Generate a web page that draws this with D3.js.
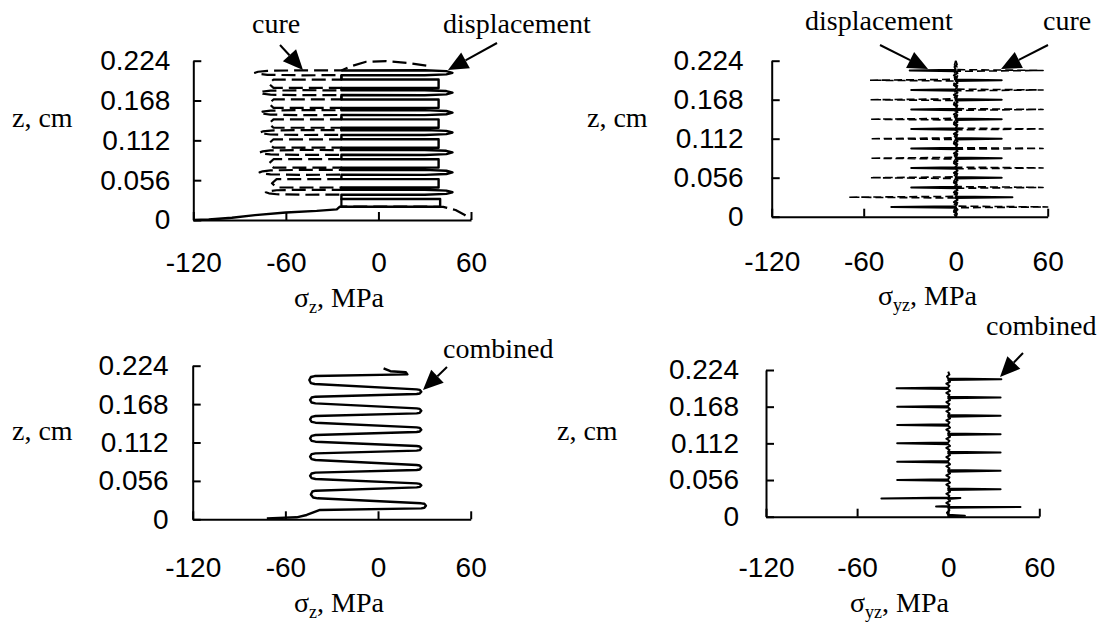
<!DOCTYPE html>
<html lang="en">
<head>
<meta charset="UTF-8">
<title>Stress through thickness</title>
<script src="https://cdnjs.cloudflare.com/ajax/libs/d3/7.8.5/d3.min.js"></script>
<style>
  body { margin: 0; background: #fff; }
  svg { display: block; }
  .tick text { font-family: "Liberation Sans", Arial, sans-serif; font-size: 28px; fill: #000; }
  .domain, .tick line { stroke: #000; stroke-width: 2; }
  .serif { font-family: "Liberation Serif", "Times New Roman", serif; font-size: 28px; fill: #000; }
  .curve { fill: none; stroke: #000; stroke-linejoin: round; }
</style>
</head>
<body>
<svg id="chart" width="1097" height="627"></svg>
<script>
// axis ticks
const sigmaTicks = [-120, -60, 0, 60];
const sigmaTickLabels = ["-120", "-60", "0", "60"];
const zTicks = [0, 0.056, 0.112, 0.168, 0.224];
const zTickLabels = ["0", "0.056", "0.112", "0.168", "0.224"];

// [sigma (MPa), z (cm)]
// sigma_z, displacement (solid)
const dispZ = [
  [-24, 0.2103], [30, 0.2105], [44, 0.2093], [48, 0.2070], [44, 0.2047], [30, 0.2035], [-24, 0.2037],
  [-24, 0.1975], [39, 0.1975], [39, 0.1857], [-24, 0.1857],
  [-24, 0.1823], [30, 0.1825], [44, 0.1813], [48, 0.1790], [44, 0.1767], [30, 0.1755], [-24, 0.1757],
  [-24, 0.1695], [39, 0.1695], [39, 0.1577], [-24, 0.1577],
  [-24, 0.1543], [30, 0.1545], [44, 0.1533], [48, 0.1510], [44, 0.1487], [30, 0.1475], [-24, 0.1477],
  [-24, 0.1415], [39, 0.1415], [39, 0.1297], [-24, 0.1297],
  [-24, 0.1263], [30, 0.1265], [44, 0.1253], [48, 0.1230], [44, 0.1207], [30, 0.1195], [-24, 0.1197],
  [-24, 0.1135], [39, 0.1135], [39, 0.1017], [-24, 0.1017],
  [-24, 0.0983], [30, 0.0985], [44, 0.0973], [48, 0.0950], [44, 0.0927], [30, 0.0915], [-24, 0.0917],
  [-24, 0.0855], [39, 0.0855], [39, 0.0737], [-24, 0.0737],
  [-24, 0.0703], [30, 0.0705], [44, 0.0693], [48, 0.0670], [44, 0.0647], [30, 0.0635], [-24, 0.0637],
  [-24, 0.0575], [39, 0.0575], [39, 0.0457], [-24, 0.0457],
  [-24, 0.0423], [30, 0.0425], [44, 0.0413], [48, 0.0390], [44, 0.0367], [30, 0.0355], [-24, 0.0357],
  [-24, 0.0295], [40, 0.0295], [40, 0.0187], [-25, 0.0187],
  [-27, 0.0150], [-40, 0.0128], [-60, 0.0105], [-80, 0.0068], [-95, 0.0032], [-110, 0.0008], [-120, 0]
];

// sigma_z, cure (dashed)
const cureZ = [
  [31, 0.2170], [20, 0.2205], [5, 0.2235], [-8, 0.2225], [-18, 0.2160], [-24, 0.2103],
  [-50, 0.2105], [-72, 0.2098], [-78, 0.2085], [-80, 0.2070], [-78, 0.2055], [-72, 0.2042], [-50, 0.2035], [-24, 0.2037],
  [-24, 0.1975], [-68, 0.1975], [-71, 0.1916], [-68, 0.1857], [-24, 0.1857],
  [-24, 0.1823], [-50, 0.1825], [-70, 0.1818], [-75, 0.1805], [-77, 0.1790], [-75, 0.1775], [-70, 0.1762], [-50, 0.1755], [-24, 0.1757],
  [-24, 0.1695], [-68, 0.1695], [-71, 0.1636], [-68, 0.1577], [-24, 0.1577],
  [-24, 0.1543], [-50, 0.1545], [-70, 0.1538], [-75, 0.1525], [-77, 0.1510], [-75, 0.1495], [-70, 0.1482], [-50, 0.1475], [-24, 0.1477],
  [-24, 0.1415], [-68, 0.1415], [-71, 0.1356], [-68, 0.1297], [-24, 0.1297],
  [-24, 0.1263], [-50, 0.1265], [-70, 0.1258], [-75, 0.1245], [-77, 0.1230], [-75, 0.1215], [-70, 0.1202], [-50, 0.1195], [-24, 0.1197],
  [-24, 0.1135], [-68, 0.1135], [-71, 0.1076], [-68, 0.1017], [-24, 0.1017],
  [-24, 0.0983], [-50, 0.0985], [-70, 0.0978], [-75, 0.0965], [-77, 0.0950], [-75, 0.0935], [-70, 0.0922], [-50, 0.0915], [-24, 0.0917],
  [-24, 0.0855], [-68, 0.0855], [-71, 0.0796], [-68, 0.0737], [-24, 0.0737],
  [-24, 0.0703], [-50, 0.0705], [-70, 0.0698], [-75, 0.0685], [-77, 0.0670], [-75, 0.0655], [-70, 0.0642], [-50, 0.0635], [-24, 0.0637],
  [-24, 0.0575], [-66, 0.0575], [-69, 0.0516], [-66, 0.0457], [-24, 0.0457],
  [-24, 0.0423], [-50, 0.0425], [-66, 0.0418], [-71, 0.0405], [-73, 0.0390], [-71, 0.0375], [-66, 0.0362], [-50, 0.0355], [-24, 0.0357],
  [-24, 0.0187], [20, 0.0190], [42, 0.0185], [50, 0.0140], [56, 0.0070], [60, 0.0010]
];

// sigma_z, combined (solid)
const combZ = [
  [3.6, 0.2202], [8, 0.2160], [18, 0.2145], [19, 0.2114], [-41, 0.2089],
  [-43.5, 0.2075], [-44.5, 0.2031], [-43.5, 0.1987], [-41, 0.1973],
  [25, 0.1895], [27, 0.1887], [28, 0.1861], [27, 0.1835], [25, 0.1827],
  [-40.5, 0.1788], [-43, 0.1776], [-44, 0.1740], [-43, 0.1703], [-40.5, 0.1691],
  [25, 0.1618], [27, 0.1610], [28, 0.1582], [27, 0.1553], [25, 0.1545],
  [-40.5, 0.1506], [-43, 0.1494], [-44, 0.1458], [-43, 0.1421], [-40.5, 0.1409],
  [25, 0.1341], [27, 0.1333], [28, 0.1307], [27, 0.1281], [25, 0.1273],
  [-40.5, 0.1229], [-43, 0.1217], [-44, 0.1181], [-43, 0.1144], [-40.5, 0.1132],
  [25, 0.1069], [27, 0.1061], [28, 0.1035], [27, 0.1009], [25, 0.1001],
  [-40.5, 0.0962], [-43, 0.0950], [-44, 0.0914], [-43, 0.0877], [-40.5, 0.0865],
  [25, 0.0792], [27, 0.0784], [28, 0.0756], [27, 0.0727], [25, 0.0719],
  [-40.5, 0.0680], [-43, 0.0668], [-44, 0.0634], [-43, 0.0600], [-40.5, 0.0588],
  [25, 0.0524], [27, 0.0517], [28, 0.0495], [27, 0.0473], [25, 0.0466],
  [-40.5, 0.0417], [-42.5, 0.0405], [-43.5, 0.0362], [-42, 0.0318], [-39, 0.0306],
  [28, 0.0233], [30, 0.0226], [31, 0.0197], [30, 0.0168], [28, 0.0160],
  [-37.6, 0.0136], [-46.2, 0.0063], [-52.7, 0.0029], [-72, 0.0014]
];

// sigma_yz, displacement (solid)
const dispYZ = [
  [0, 0.2240], [0.8, 0.2185], [-0.8, 0.2150], [0, 0.2110], [-30, 0.2100], [0, 0.2090],
  [1.2, 0.2060], [-1.2, 0.2030], [0.8, 0.2000], [0, 0.1970], [30, 0.1960], [0, 0.1950],
  [1.2, 0.1920], [-1.2, 0.1890], [0.8, 0.1860], [0, 0.1830], [-29, 0.1820], [0, 0.1810],
  [1.2, 0.1780], [-1.2, 0.1750], [0.8, 0.1720], [0, 0.1690], [30, 0.1680], [0, 0.1670],
  [1.2, 0.1640], [-1.2, 0.1610], [0.8, 0.1580], [0, 0.1550], [-29, 0.1540], [0, 0.1530],
  [1.2, 0.1500], [-1.2, 0.1470], [0.8, 0.1440], [0, 0.1410], [30, 0.1400], [0, 0.1390],
  [1.2, 0.1360], [-1.2, 0.1330], [0.8, 0.1300], [0, 0.1270], [-29, 0.1260], [0, 0.1250],
  [1.2, 0.1220], [-1.2, 0.1190], [0.8, 0.1160], [0, 0.1130], [30, 0.1120], [0, 0.1110],
  [1.2, 0.1080], [-1.2, 0.1050], [0.8, 0.1020], [0, 0.0990], [-29, 0.0980], [0, 0.0970],
  [1.2, 0.0940], [-1.2, 0.0910], [0.8, 0.0880], [0, 0.0850], [30, 0.0840], [0, 0.0830],
  [1.2, 0.0800], [-1.2, 0.0770], [0.8, 0.0740], [0, 0.0710], [-29, 0.0700], [0, 0.0690],
  [1.2, 0.0660], [-1.2, 0.0630], [0.8, 0.0600], [0, 0.0570], [30, 0.0560], [0, 0.0550],
  [1.2, 0.0520], [-1.2, 0.0490], [0.8, 0.0460], [0, 0.0430], [-29, 0.0420], [0, 0.0410],
  [1.2, 0.0380], [-1.2, 0.0350], [0.8, 0.0320], [0, 0.0290], [37, 0.0280], [0, 0.0270],
  [1.2, 0.0240], [-1.2, 0.0210], [0.8, 0.0180], [0, 0.0150], [-42, 0.0140], [0, 0.0130],
  [1.2, 0.0100], [-1.2, 0.0070], [0.8, 0.0040], [0, 0]
];

// sigma_yz, cure (dashed)
const cureYZ = [
  [0, 0.2240], [-0.8, 0.2180], [0.8, 0.2150], [0, 0.2112], [57, 0.2100], [0, 0.2088],
  [-1.2, 0.2050], [1.2, 0.2020], [-0.8, 0.1995], [0, 0.1972], [-56, 0.1960], [0, 0.1948],
  [-1.2, 0.1910], [1.2, 0.1880], [-0.8, 0.1855], [0, 0.1832], [57, 0.1820], [0, 0.1808],
  [-1.2, 0.1770], [1.2, 0.1740], [-0.8, 0.1715], [0, 0.1692], [-56, 0.1680], [0, 0.1668],
  [-1.2, 0.1630], [1.2, 0.1600], [-0.8, 0.1575], [0, 0.1552], [57, 0.1540], [0, 0.1528],
  [-1.2, 0.1490], [1.2, 0.1460], [-0.8, 0.1435], [0, 0.1412], [-56, 0.1400], [0, 0.1388],
  [-1.2, 0.1350], [1.2, 0.1320], [-0.8, 0.1295], [0, 0.1272], [57, 0.1260], [0, 0.1248],
  [-1.2, 0.1210], [1.2, 0.1180], [-0.8, 0.1155], [0, 0.1132], [-56, 0.1120], [0, 0.1108],
  [-1.2, 0.1070], [1.2, 0.1040], [-0.8, 0.1015], [0, 0.0992], [57, 0.0980], [0, 0.0968],
  [-1.2, 0.0930], [1.2, 0.0900], [-0.8, 0.0875], [0, 0.0852], [-56, 0.0840], [0, 0.0828],
  [-1.2, 0.0790], [1.2, 0.0760], [-0.8, 0.0735], [0, 0.0712], [57, 0.0700], [0, 0.0688],
  [-1.2, 0.0650], [1.2, 0.0620], [-0.8, 0.0595], [0, 0.0572], [-56, 0.0560], [0, 0.0548],
  [-1.2, 0.0510], [1.2, 0.0480], [-0.8, 0.0455], [0, 0.0432], [57, 0.0420], [0, 0.0408],
  [-1.2, 0.0370], [1.2, 0.0340], [-0.8, 0.0315], [0, 0.0292], [-70, 0.0280], [0, 0.0268],
  [-1.2, 0.0230], [1.2, 0.0200], [-0.8, 0.0175], [0, 0.0152], [60, 0.0140], [0, 0.0128],
  [-1.2, 0.0090], [1.2, 0.0060], [-0.8, 0.0030], [0, 0]
];

// sigma_yz, combined (solid)
const combYZ = [
  [0, 0.2214], [0.8, 0.2170], [-0.8, 0.2140], [0, 0.2112], [35, 0.2100], [0, 0.2088],
  [1.2, 0.2060], [-1.2, 0.2030], [0.8, 0.2000], [0, 0.1972], [-34, 0.1960], [0, 0.1948],
  [1.2, 0.1920], [-1.2, 0.1890], [0.8, 0.1860], [0, 0.1832], [34.5, 0.1820], [0, 0.1808],
  [1.2, 0.1780], [-1.2, 0.1750], [0.8, 0.1720], [0, 0.1692], [-33.6, 0.1680], [0, 0.1668],
  [1.2, 0.1640], [-1.2, 0.1610], [0.8, 0.1580], [0, 0.1552], [34.5, 0.1540], [0, 0.1528],
  [1.2, 0.1500], [-1.2, 0.1470], [0.8, 0.1440], [0, 0.1412], [-33.6, 0.1400], [0, 0.1388],
  [1.2, 0.1360], [-1.2, 0.1330], [0.8, 0.1300], [0, 0.1272], [34.5, 0.1260], [0, 0.1248],
  [1.2, 0.1220], [-1.2, 0.1190], [0.8, 0.1160], [0, 0.1132], [-33.6, 0.1120], [0, 0.1108],
  [1.2, 0.1080], [-1.2, 0.1050], [0.8, 0.1020], [0, 0.0992], [34.5, 0.0980], [0, 0.0968],
  [1.2, 0.0940], [-1.2, 0.0910], [0.8, 0.0880], [0, 0.0852], [-33.6, 0.0840], [0, 0.0828],
  [1.2, 0.0800], [-1.2, 0.0770], [0.8, 0.0740], [0, 0.0712], [34.5, 0.0700], [0, 0.0688],
  [1.2, 0.0660], [-1.2, 0.0630], [0.8, 0.0600], [0, 0.0572], [-33.6, 0.0560], [0, 0.0548],
  [1.2, 0.0520], [-1.2, 0.0490], [0.8, 0.0460], [0, 0.0432], [34.5, 0.0420], [0, 0.0408],
  [1.2, 0.0380], [-1.2, 0.0350], [0.8, 0.0320], [0, 0.0292], [-44, 0.0278], [8, 0.0286], [0, 0.0270],
  [1.2, 0.0240], [-1.2, 0.0210], [0.8, 0.0180], [0, 0.0162], [-8, 0.0155], [0, 0.0152], [47.6, 0.0148], [0, 0.0138],
  [0.8, 0.0100], [-0.8, 0.0060], [0, 0.0030], [11, 0.0015], [0, 0.0005], [0, 0]
];

const svg = d3.select("#chart");

// panel layout in pixels
const panels = [
  { x0: 193.3, x1: 471,    y0: 220,   y1: 60.7,  ygap: 23, xpad: 32,
    yLabel: [12, 127], xLabel: [294, 307], sub: "z",
    series: [{ data: cureZ, w: 2.2, dash: "14,6" }, { data: dispZ, w: 2.4 }] },
  { x0: 771.7, x1: 1047.7, y0: 216.7, y1: 60.7,  ygap: 28, xpad: 34,
    yLabel: [587, 127], xLabel: [878, 305], sub: "yz",
    series: [{ data: cureYZ, w: 1.6, dash: "8,4" }, { data: dispYZ, w: 2 }] },
  { x0: 192.7, x1: 470.7,  y0: 519.3, y1: 365.7, ygap: 24, xpad: 38,
    yLabel: [12, 440], xLabel: [294, 612], sub: "z",
    series: [{ data: combZ, w: 2.4 }] },
  { x0: 766,   x1: 1039.3, y0: 516.7, y1: 370,   ygap: 27, xpad: 40,
    yLabel: [557, 440], xLabel: [850, 612], sub: "yz",
    series: [{ data: combYZ, w: 2 }] }
];

panels.forEach(p => {
  const x = d3.scaleLinear().domain([-120, 60]).range([p.x0, p.x1]);
  const y = d3.scaleLinear().domain([0, 0.224]).range([p.y0, p.y1]);
  const g = svg.append("g");

  g.append("g")
    .attr("transform", `translate(${p.x0},0)`)
    .call(d3.axisLeft(y).tickValues(zTicks)
      .tickFormat((d, i) => zTickLabels[i])
      .tickSize(-8).tickSizeOuter(0).tickPadding(p.ygap));

  g.append("g")
    .attr("transform", `translate(0,${p.y0})`)
    .call(d3.axisBottom(x).tickValues(sigmaTicks)
      .tickFormat((d, i) => sigmaTickLabels[i])
      .tickSize(-8).tickSizeOuter(0).tickPadding(p.xpad));

  const line = d3.line().x(d => x(d[0])).y(d => y(d[1]));
  p.series.forEach(s => {
    g.append("path")
      .attr("class", "curve")
      .attr("d", line(s.data))
      .attr("stroke-width", s.w)
      .attr("stroke-dasharray", s.dash || null);
  });

  g.append("text").attr("class", "serif")
    .attr("x", p.yLabel[0]).attr("y", p.yLabel[1]).text("z, cm");

  const t = g.append("text").attr("class", "serif")
    .attr("x", p.xLabel[0]).attr("y", p.xLabel[1]);
  t.append("tspan").text("σ");
  t.append("tspan").attr("font-size", 18).attr("dy", 6).text(p.sub);
  t.append("tspan").attr("dy", -6).text(", MPa");
});

// annotation labels with arrows
const notes = [
  { text: "cure",         tx: 252, ty: 33,  from: [280, 45],  to: [303, 70] },
  { text: "displacement", tx: 443, ty: 33,  from: [497, 43],  to: [448, 70] },
  { text: "displacement", tx: 805, ty: 30,  from: [880, 45],  to: [928, 69] },
  { text: "cure",         tx: 1043, ty: 30, from: [1048, 45], to: [1001, 69] },
  { text: "combined",     tx: 443, ty: 358, from: [447, 367], to: [423, 390] },
  { text: "combined",     tx: 986, ty: 335, from: [1023, 353], to: [1000, 377] }
];

notes.forEach(n => {
  svg.append("text").attr("class", "serif")
    .attr("x", n.tx).attr("y", n.ty).text(n.text);
  const [x1, y1] = n.from, [x2, y2] = n.to;
  const len = Math.hypot(x2 - x1, y2 - y1);
  const ux = (x2 - x1) / len, uy = (y2 - y1) / len;
  const L = 20, W = 9;
  const bx = x2 - ux * L, by = y2 - uy * L;
  svg.append("line")
    .attr("x1", x1).attr("y1", y1).attr("x2", bx).attr("y2", by)
    .attr("stroke", "#000").attr("stroke-width", 2);
  svg.append("path")
    .attr("d", `M${x2},${y2}L${bx - uy * W},${by + ux * W}L${bx + uy * W},${by - ux * W}Z`)
    .attr("fill", "#000");
});
</script>
</body>
</html>
